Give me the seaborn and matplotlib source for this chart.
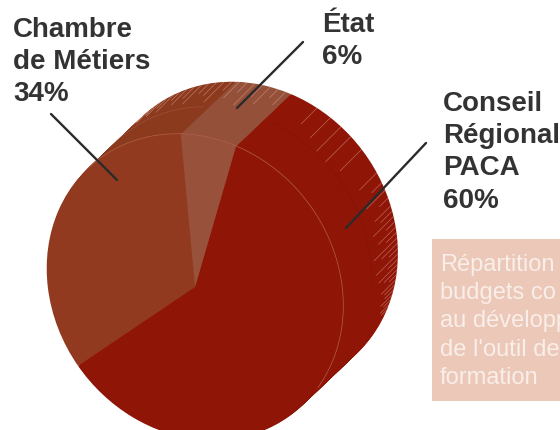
#!/usr/bin/env python3

import numpy as np
import matplotlib
matplotlib.use('Agg')
import matplotlib.pyplot as plt
from matplotlib.patches import Rectangle
from matplotlib.transforms import Affine2D
import seaborn as sns

labels = ['Conseil\nRégional\nPACA\n60%', 'Chambre\nde Métiers\n34%', 'État\n6%']
values = [60, 34, 6]
slice_colors = ['#8f1507', '#923a20', '#98513a']
side_colors = ['#8f1507', '#8b3a1e', '#95503a']
caption = ["Répartition", "budgets co", "au développ", "de l'outil de", "formation"]

# pale streaks on the back rim: position on the disc (deg) and length (px)
streak_angles = [-153, -151, -149, -147, -145, -143, -141, -139, -137, -135, -133, -131, -129, -127, -125,
                 -123, -121, -119, -117, -115, -113, -110, -107, -104, -100,
                 -90, -84, -79, -74, -68,
                 -55, -52, -49, -46, -43, -40, -37, -34, -31, -28, -25, -22, -19, -16, -13, -10, -7, -4, -1, 2, 5]
streak_lengths = [8, 12, 10, 16, 12, 14, 20, 10, 18, 26, 14, 30, 12, 22, 32, 14, 24, 12, 28, 16, 22, 12, 26, 14, 24,
                  30, 36, 34, 28, 22,
                  18, 12, 24, 16, 30, 14, 22, 12, 28, 18, 14, 26, 16, 22, 12, 24, 14, 20, 12, 16, 10]

sns.set_theme(style='white')
plt.rcParams['font.family'] = ['Liberation Sans', 'DejaVu Sans']

fig, ax = plt.subplots(figsize=(5.6, 4.3), dpi=100)
ax.set_position([0, 0, 1, 1])
ax.axis('off')

# the disc is a unit pie, stretched and turned into a tilted ellipse
cx, cy = 195, 143
long_r, short_r, tilt = 160, 141, 127.4
depth = 52
shift_x = 1.05
start = -57


def disc(step):
    return Affine2D().scale(long_r, short_r).rotate_deg(tilt).translate(cx + step * shift_x, cy + step)


def draw_pie(colors, step, zorder):
    wedges, _ = ax.pie(values, colors=colors, startangle=start, counterclock=False, frame=True,
                       wedgeprops={'linewidth': 0, 'zorder': zorder})
    for wedge in wedges:
        wedge.set_transform(disc(step) + ax.transData)


def rim(theta1, theta2, step, color, zorder):
    t = np.radians(np.linspace(theta1, theta2, 120))
    pts = disc(step).transform(np.column_stack([np.cos(t), np.sin(t)]))
    ax.plot(pts[:, 0], pts[:, 1], color=color, lw=0.5, zorder=zorder)


# extruded body, painted back to front
for step in range(depth, 0, -1):
    draw_pie(side_colors, step, 1)

# streaks
for angle, length in zip(streak_angles, streak_lengths):
    t = np.radians(angle)
    px, py = disc(depth).transform([[np.cos(t), np.sin(t)]])[0]
    ax.plot([px, px - length * 0.72], [py, py - length * 0.72],
            color='#e8b8a8', lw=0.4, alpha=0.6, zorder=3)

# top face
draw_pie(slice_colors, 0, 4)

# faint rims
rim(-165, 6, 0, '#b0604c', 5)
rim(-33, 5, 27, '#a0503a', 3)
rim(-135, -60, 27, '#851307', 3)

ax.set_xlim(0, 560)
ax.set_ylim(0, 430)
ax.set_aspect('equal')

# leader lines
ink = '#2b2b2b'
ax.plot([51, 117], [316, 250], color=ink, lw=1.7, zorder=6)
ax.plot([303, 237], [388, 322], color=ink, lw=1.7, zorder=6)
ax.plot([426, 346], [287, 202], color=ink, lw=1.7, zorder=6)

# labels
text_kw = dict(fontsize=20, fontweight='bold', color='#333333', va='top', ha='left',
               linespacing=1.31, zorder=7)
ax.text(443, 339, labels[0], **text_kw)
ax.text(13, 413, labels[1], **text_kw)
ax.text(322, 418, labels[2], **text_kw)

# caption box
ax.add_patch(Rectangle((432, 29), 128, 162, facecolor='#ebc8b8', edgecolor='none', zorder=6))
ax.text(440, 176, '\n'.join(caption), fontsize=17, color='#f9eee9', va='top', ha='left',
        linespacing=1.365, zorder=7)

fig.savefig('out.png', dpi=100)
